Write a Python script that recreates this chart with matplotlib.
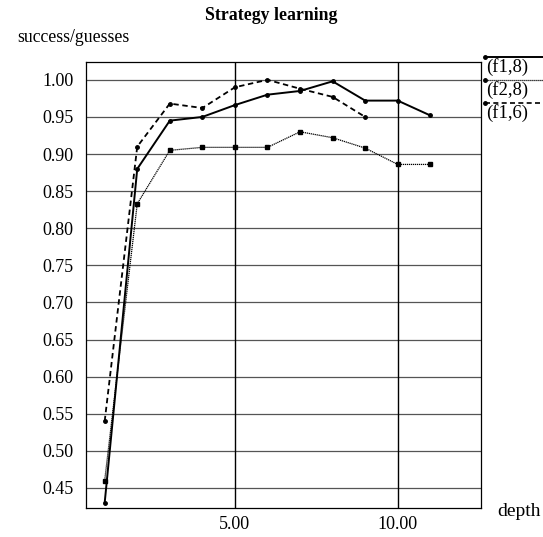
import numpy as np
import matplotlib.pyplot as plt

plt.rcParams['font.family'] = ['Liberation Serif', 'DejaVu Serif']

depth = [1, 2, 3, 4, 5, 6, 7, 8, 9, 10, 11]
f1_8 = [0.430, 0.880, 0.945, 0.950, 0.966, 0.980, 0.985, 0.998, 0.972, 0.972, 0.952]
f2_8 = [0.460, 0.833, 0.905, 0.909, 0.909, 0.909, 0.930, 0.922, 0.908, 0.886, 0.886]
depth_f16 = [1, 2, 3, 4, 5, 6, 7, 8, 9]
f1_6 = [0.540, 0.910, 0.968, 0.962, 0.990, 1.000, 0.988, 0.977, 0.950]

yticks = np.arange(0.45, 1.001, 0.05)
xticks = [5, 10]

fig = plt.figure(figsize=(5.43, 5.37), dpi=100)
ax = fig.add_axes([0.158, 0.054, 0.728, 0.8305])

for y in yticks:
    ax.axhline(y, color='#555555', lw=0.9, zorder=1)
for x in xticks:
    ax.axvline(x, color='black', lw=1.0, zorder=1)

ax.plot(depth, f1_8, '-', color='black', lw=1.4, marker='o', ms=2.5, zorder=3)
ax.plot(depth, f2_8, color='black', lw=0.9, ls=(0, (1, 0.6)), marker='s', ms=2.5, zorder=3)
ax.plot(depth_f16, f1_6, color='black', lw=1.3, ls=(0, (3, 2)), marker='o', ms=2.5, zorder=3)

ax.set_xlim(0.42, 12.56)
ax.set_ylim(0.423, 1.024)
ax.set_yticks(yticks)
ax.set_yticklabels(['%.2f' % v for v in yticks], fontsize=13)
ax.set_xticks(xticks)
ax.set_xticklabels(['%.2f' % v for v in xticks], fontsize=13)
ax.tick_params(axis='y', length=0, pad=9)
ax.tick_params(axis='x', length=0, pad=6)
for s in ax.spines.values():
    s.set_linewidth(0.9)
    s.set_linestyle((0, (6, 1, 1, 1)))

# legend drawn to the right of the axes
leg = [('(f1,8)', '-', 1.4), ('(f2,8)', (0, (1, 0.6)), 0.9), ('(f1,6)', (0, (3, 2)), 1.2)]
for i, (lab, ls, lw) in enumerate(leg):
    yl = 0.894 - i * 0.043
    fig.add_artist(plt.Line2D([0.893, 1.0], [yl, yl], transform=fig.transFigure,
                              color='black', ls=ls, lw=lw))
    fig.add_artist(plt.Line2D([0.893], [yl], transform=fig.transFigure,
                              color='black', marker='o', ms=2.5))
    fig.text(0.896, yl - 0.002, lab, fontsize=13.5, va='top', ha='left')

fig.text(0.5, 0.972, 'Strategy learning', fontsize=12.8, fontweight='bold', ha='center', va='center')
fig.text(0.032, 0.93, 'success/guesses', fontsize=12.8, ha='left', va='center')
fig.text(0.915, 0.047, 'depth', fontsize=14, ha='left', va='center')

fig.savefig('out.png', dpi=100)
